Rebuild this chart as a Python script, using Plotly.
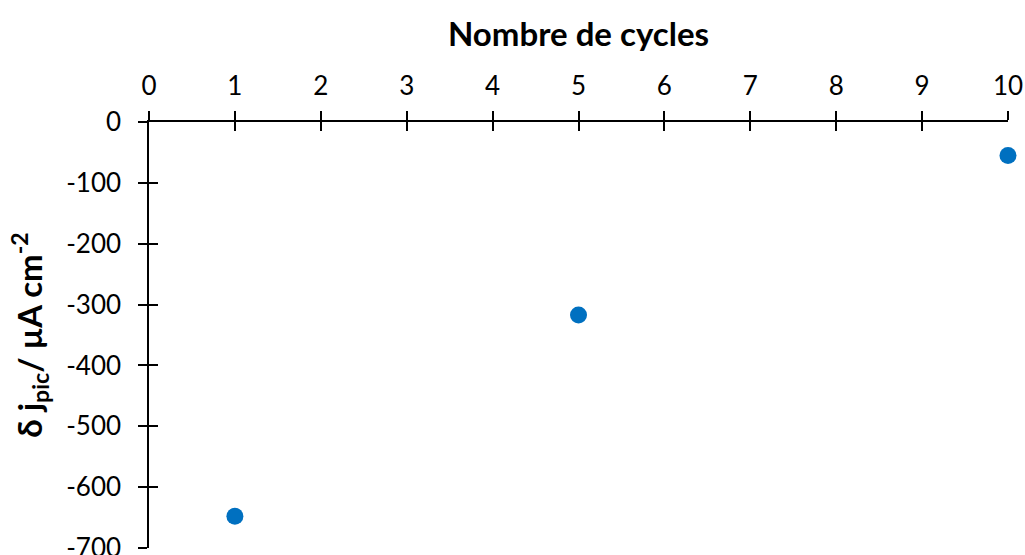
import plotly.graph_objects as go

# Peak current change versus number of cycles
cycles = [1, 5, 10]
delta_j = [-648, -317, -55]

x_ticks = list(range(0, 11))
y_ticks = list(range(-700, 1, 100))
y_tick_text = [str(v) for v in y_ticks]  # plain hyphen for negatives

FONT = "Lato, 'Open Sans', sans-serif"
BLUE = "#0070C0"

fig = go.Figure()
fig.add_trace(go.Scatter(
    x=cycles, y=delta_j, mode="markers",
    marker=dict(color=BLUE, size=17, line=dict(width=0)),
    cliponaxis=False, showlegend=False, xaxis="x", yaxis="y",
))

tick_style = dict(showgrid=False, zeroline=False, tickcolor="black", tickwidth=1.5, ticklen=9,
                  tickfont=dict(family=FONT, size=26, color="black"), automargin=False)
line_style = dict(showline=True, linecolor="black", linewidth=1.5)

fig.update_layout(
    width=1025, height=555,
    margin=dict(l=149, r=17, t=122, b=7),
    paper_bgcolor="white", plot_bgcolor="white",
    xaxis=dict(range=[0, 10], tickvals=x_ticks, side="top", ticks="outside",
               anchor="y", ticklabelstandoff=6, ticklabeloverflow="allow",
               title=dict(text="<b>Nombre de cycles</b>", standoff=12,
                          font=dict(family=FONT, size=33, color="black")),
               **tick_style, **line_style),
    # inner half of the cross ticks on the x axis
    xaxis2=dict(range=[0, 10], tickvals=x_ticks, side="top", ticks="inside",
                overlaying="x", matches="x", anchor="y", showticklabels=False,
                showline=False, **tick_style),
    yaxis=dict(range=[-700, 0], tickvals=y_ticks, ticktext=y_tick_text, ticks="outside",
               anchor="x", ticklabelstandoff=12, ticklabeloverflow="allow",
               title=dict(text="<b>δ j<sub>pic</sub>/ µA cm<sup>-2</sup></b>", standoff=14,
                          font=dict(family=FONT, size=33, color="black")),
               **tick_style, **line_style),
    # inner half of the cross ticks on the y axis
    yaxis2=dict(range=[-700, 0], tickvals=y_ticks, ticks="inside", overlaying="y",
                matches="y", anchor="x", showticklabels=False, showline=False,
                **tick_style),
)

# invisible trace bound to the secondary axes so they render
fig.add_trace(go.Scatter(x=[None], y=[None], xaxis="x2", yaxis="y2",
                         showlegend=False, hoverinfo="skip"))

fig.write_html("out.html")
